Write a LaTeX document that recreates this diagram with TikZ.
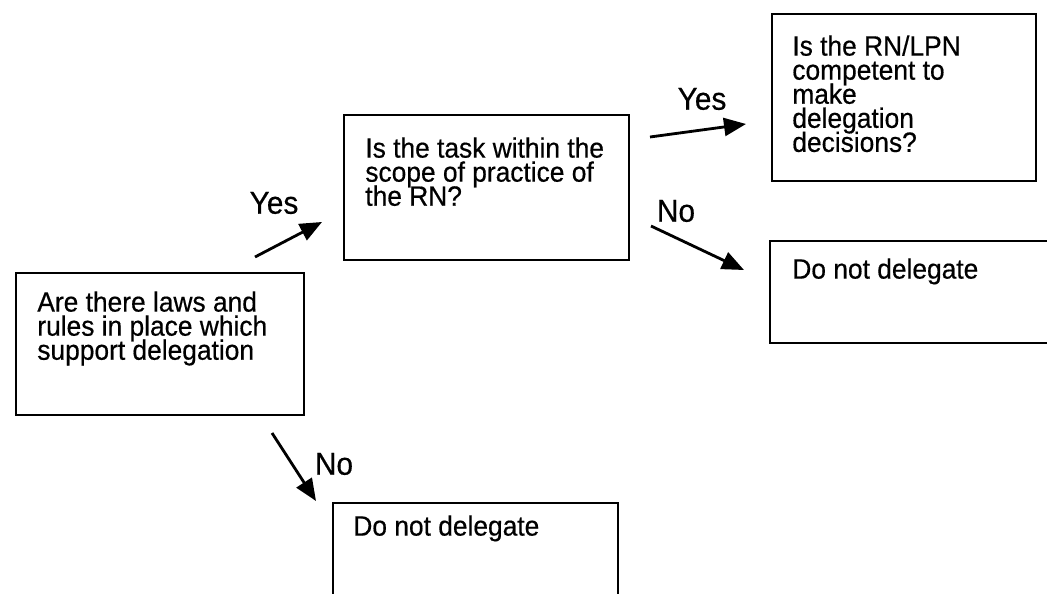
\documentclass[tikz,border=0pt]{standalone}
\usepackage{fontspec}
\setmainfont{Liberation Sans}
\newfontfamily\qfam{Liberation Sans}[FakeStretch=0.943, FakeBold=0.5]
\usetikzlibrary{arrows.meta}
\newcommand{\qfont}{\qfam\fontsize{15.9pt}{13.7pt}\selectfont\lineskiplimit=-20pt\relax}
\newcommand{\afont}{\qfam\fontsize{18pt}{19pt}\selectfont}
\tikzset{
  qbox/.style={draw, line width=1.3pt, anchor=north west, inner sep=0pt},
  qtext/.style={anchor=north west, inner sep=0pt, align=left},
  ans/.style={inner sep=0pt, font=\afont},
  arr/.style={-{Triangle[length=0.44cm,width=0.36cm]}, line width=1.6pt}
}
\begin{document}
\begin{tikzpicture}[x=0.02cm, y=-0.02cm, font=\qfont]
    \useasboundingbox (0,0) rectangle (1047,594);
    % boxes
    \node[qbox, minimum width=5.76cm, minimum height=2.84cm] (laws) at (15,272) {};
    \node[qbox, minimum width=5.70cm, minimum height=2.90cm] (scope) at (343,114) {};
    \node[qbox, minimum width=5.28cm, minimum height=3.34cm] (comp) at (771,13) {};
    \node[qbox, minimum width=5.62cm, minimum height=2.04cm] (nodel1) at (769,240) {};
    \node[qbox, minimum width=5.70cm, minimum height=1.96cm] (nodel2) at (332,502) {};
    % texts
    \node[qtext] (lawst) at ([shift={(22,19)}]laws.north west)
      {Are there laws and\\rules in place which\\support delegation};
    \node[qtext] (scopet) at ([shift={(22,23)}]scope.north west)
      {Is the task within the\\scope of practice of\\the RN?};
    \node[qtext] (compt) at ([shift={(21,22)}]comp.north west)
      {Is the RN/LPN\\competent to\\make\\delegation\\decisions?};
    \node[qtext] (nodel1t) at ([shift={(23,18)}]nodel1.north west) {Do not delegate};
    \node[qtext] (nodel2t) at ([shift={(21,13)}]nodel2.north west) {Do not delegate};
    % answers
    \node[ans] (yes1) at (274,203) {Yes};
    \node[ans] (yes2) at (702,99) {Yes};
    \node[ans] (no1) at (676,211) {No};
    \node[ans] (no2) at (334,464) {No};
    % arrows
    \coordinate (y1s) at (255,257);
    \coordinate (y1e) at (322,222);
    \coordinate (y2s) at (650,137);
    \coordinate (y2e) at (746,124);
    \coordinate (n1s) at (651,226);
    \coordinate (n1e) at (744,270);
    \coordinate (n2s) at (272,433);
    \coordinate (n2e) at (316,501);
    \draw[arr] (y1s) -- (y1e);
    \draw[arr] (y2s) -- (y2e);
    \draw[arr] (n1s) -- (n1e);
    \draw[arr] (n2s) -- (n2e);
\end{tikzpicture}
\end{document}
